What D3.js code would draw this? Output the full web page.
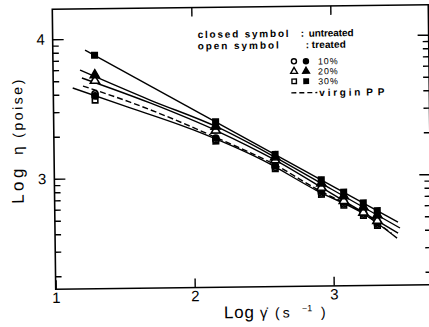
<!DOCTYPE html>
<html><head><meta charset="utf-8">
<script src="https://cdn.jsdelivr.net/npm/d3@7"></script>
<style>
body{margin:0;background:#fff}
svg{display:block}
text{font-family:"Liberation Sans",Arial,sans-serif;fill:#000}
</style>
</head><body>
<script>
// log shear rate (s^-1) of each measurement
const rates = [1.3, 2.165, 2.59, 2.92, 3.08, 3.22, 3.32];
// log viscosity (poise) per sample
const untreated30 = [3.882, 3.394, 3.155, 2.969, 2.879, 2.800, 2.743];
const untreated20 = [3.740, 3.361, 3.135, 2.944, 2.851, 2.769, 2.711];
const treated20   = [3.700, 3.332, 3.114, 2.914, 2.817, 2.732, 2.671];
const untreated10 = [3.590, 3.278, 3.075, 2.887, 2.807, 2.732, 2.659];
const treated10   = [3.605, 3.266, 3.063, 2.875, 2.795, 2.720, 2.647];
const treated30   = [3.560, 3.256, 3.053, 2.865, 2.785, 2.710, 2.637];

// flow curves drawn through the data (log rate, log viscosity)
const fitRate30 = [1.232, 3.468];
const fit30     = [3.920, 2.660];
const fitRate20U = [1.194, 1.695, 2.175, 2.575, 3.0, 3.482];
const fit20U     = [3.777, 3.556, 3.357, 3.144, 2.897, 2.617];
const fitRate20T = [1.207, 1.695, 2.175, 2.575, 3.0, 3.468];
const fit20T     = [3.720, 3.535, 3.328, 3.123, 2.865, 2.581];
const fitRate10  = [1.14, 1.5, 2.0, 2.5, 2.9, 3.2, 3.46];
const fit10      = [3.649, 3.52, 3.34, 3.115, 2.885, 2.735, 2.545];
const virginRate = [1.214, 1.551, 2.17, 2.6, 2.9, 3.2, 3.42];
const virginPP   = [3.662, 3.543, 3.28, 3.075, 2.895, 2.74, 2.58];

// axis ticks
const xTicks = [1, 2, 3];
const yTicks = [3, 4];
const minorMultiples = [2, 3, 4, 5, 6, 7, 8, 9];
const legendRows = ["10%", "20%", "30%"];

const W = 429, H = 327;
const svg = d3.select("body").append("svg").attr("width", W).attr("height", H);
const g = svg.append("g").attr("transform", "rotate(-0.7 240 148)");

const x = d3.scaleLinear().domain([1, 3.705]).range([54, 430]);
const y = d3.scaleLinear().domain([2.208, 4.215]).range([287, 7]);
const [x0, x1] = x.range();
const [yb, yt] = y.range();

const yMinor = [100, 1000].flatMap(p => minorMultiples.map(m => Math.log10(m * p)))
  .filter(v => v > y.domain()[0] && v < y.domain()[1]);

const clean = sel => sel.call(s => s.select(".domain").remove())
  .call(s => s.selectAll("line").attr("stroke", "#000").attr("stroke-width", 1.4));

// frame
g.append("rect").attr("x", x0).attr("y", yt).attr("width", x1 - x0).attr("height", yb - yt)
  .attr("fill", "none").attr("stroke", "#000").attr("stroke-width", 1.6);

// left axis
g.append("g").attr("transform", `translate(${x0},0)`)
  .call(d3.axisLeft(y).tickValues(yTicks).tickSizeInner(-11).tickSizeOuter(0).tickPadding(8).tickFormat(d3.format("d")))
  .call(clean)
  .call(s => s.selectAll("text").attr("font-size", 15).attr("font-family", "Liberation Sans, Arial, sans-serif"));
g.append("g").attr("transform", `translate(${x0},0)`)
  .call(d3.axisLeft(y).tickValues(yMinor).tickSizeInner(-6).tickSizeOuter(0).tickFormat(""))
  .call(clean);

// right axis
g.append("g").attr("transform", `translate(${x1},0)`)
  .call(d3.axisRight(y).tickValues(yTicks).tickSizeInner(-11).tickSizeOuter(0).tickFormat(""))
  .call(clean);
g.append("g").attr("transform", `translate(${x1},0)`)
  .call(d3.axisRight(y).tickValues(yMinor).tickSizeInner(-6).tickSizeOuter(0).tickFormat(""))
  .call(clean);

// bottom and top axes
g.append("g").attr("transform", `translate(0,${yb})`)
  .call(d3.axisBottom(x).tickValues(xTicks).tickSizeInner(-9).tickSizeOuter(0).tickPadding(3).tickFormat(d3.format("d")))
  .call(clean)
  .call(s => s.selectAll("text").attr("font-size", 15).attr("font-family", "Liberation Sans, Arial, sans-serif"));
g.append("g").attr("transform", `translate(0,${yt})`)
  .call(d3.axisTop(x).tickValues(xTicks.slice(1)).tickSizeInner(-9).tickSizeOuter(0).tickFormat(""))
  .call(clean);

// flow curves
const line = d3.line().x(d => x(d[0])).y(d => y(d[1])).curve(d3.curveMonotoneX);
const curves = [
  [fitRate30, fit30, null],
  [fitRate20U, fit20U, null],
  [fitRate20T, fit20T, null],
  [fitRate10, fit10, null],
  [virginRate, virginPP, "6,3"]
];
curves.forEach(([r, v, dash]) => {
  g.append("path").datum(d3.zip(r, v)).attr("d", line)
    .attr("fill", "none").attr("stroke", "#000").attr("stroke-width", 1.4)
    .attr("stroke-dasharray", dash);
});

// markers
const symCircle = d3.symbol().type(d3.symbolCircle).size(30);
const symTri = d3.symbol().type(d3.symbolTriangle).size(36);
const symSquare = d3.symbol().type(d3.symbolSquare).size(30);
const series = [
  [treated30, symSquare, false],
  [treated10, symCircle, false],
  [untreated10, symCircle, true],
  [treated20, symTri, false],
  [untreated20, symTri, true],
  [untreated30, symSquare, true]
];
series.forEach(([vals, sym, filled]) => {
  g.append("g").selectAll("path").data(d3.zip(rates, vals)).join("path")
    .attr("transform", d => `translate(${x(d[0])},${y(d[1])})`)
    .attr("d", sym())
    .attr("fill", filled ? "#000" : "#fff")
    .attr("stroke", "#000").attr("stroke-width", 1.6);
});

// legend
const lg = g.append("g").attr("font-weight", "bold").attr("font-size", 10);
lg.append("text").attr("x", 199).attr("y", 37.5).attr("textLength", 91).attr("lengthAdjust", "spacing").text("closed symbol");
lg.append("text").attr("x", 302).attr("y", 37.5).text(":");
lg.append("text").attr("x", 310).attr("y", 37.5).attr("textLength", 45).attr("lengthAdjust", "spacing").text("untreated");
lg.append("text").attr("x", 199).attr("y", 49).attr("textLength", 81).attr("lengthAdjust", "spacing").text("open symbol");
lg.append("text").attr("x", 307).attr("y", 49).text(":");
lg.append("text").attr("x", 313).attr("y", 49).attr("textLength", 34).attr("lengthAdjust", "spacing").text("treated");

const legendSyms = [symCircle, symTri, symSquare];
legendRows.forEach((label, i) => {
  const ly = 62 + i * 10;
  [false, true].forEach((filled, j) => {
    g.append("path").attr("transform", `translate(${295 + j * 12},${ly})`)
      .attr("d", legendSyms[i].size(20)())
      .attr("fill", filled ? "#000" : "#fff").attr("stroke", "#000").attr("stroke-width", 1.4);
  });
  g.append("text").attr("x", 319).attr("y", ly + 3.4).attr("font-size", 8.9).attr("letter-spacing", 0.9).text(label);
});
const vy = 93.5;
g.append("line").attr("x1", 292).attr("x2", 318).attr("y1", vy).attr("y2", vy)
  .attr("stroke", "#000").attr("stroke-width", 1.4).attr("stroke-dasharray", "5,3");
g.append("text").attr("x", 320).attr("y", vy + 3.5).attr("font-size", 10).attr("font-weight", "bold")
  .attr("textLength", 41).attr("lengthAdjust", "spacing").text("virgin");
g.append("text").attr("x", 367).attr("y", vy + 3.5).attr("font-size", 10).attr("font-weight", "bold")
  .attr("textLength", 18).attr("lengthAdjust", "spacing").text("PP");

// axis titles
const ylab = g.append("g").attr("transform", "translate(23,0) rotate(-90)");
ylab.append("text").attr("x", -201).attr("font-size", 17).attr("textLength", 35).attr("lengthAdjust", "spacing").text("Log");
ylab.append("text").attr("x", -152).attr("font-size", 15).text("η");
ylab.append("text").attr("x", -135).attr("font-size", 14).attr("textLength", 58).attr("lengthAdjust", "spacing").text("(poise)");

const xt = g.append("g").attr("font-size", 17);
xt.append("text").attr("x", 222).attr("y", 318).attr("textLength", 30).attr("lengthAdjust", "spacing").text("Log");
xt.append("text").attr("x", 258).attr("y", 318).attr("font-size", 15).text("γ\u0307");
xt.append("text").attr("x", 273).attr("y", 318).attr("font-size", 14).attr("letter-spacing", 3).text("(s");
xt.append("text").attr("x", 300).attr("y", 312).attr("font-size", 9).text("−1");
xt.append("text").attr("x", 319).attr("y", 318).attr("font-size", 14).text(")");
</script>
</body></html>
